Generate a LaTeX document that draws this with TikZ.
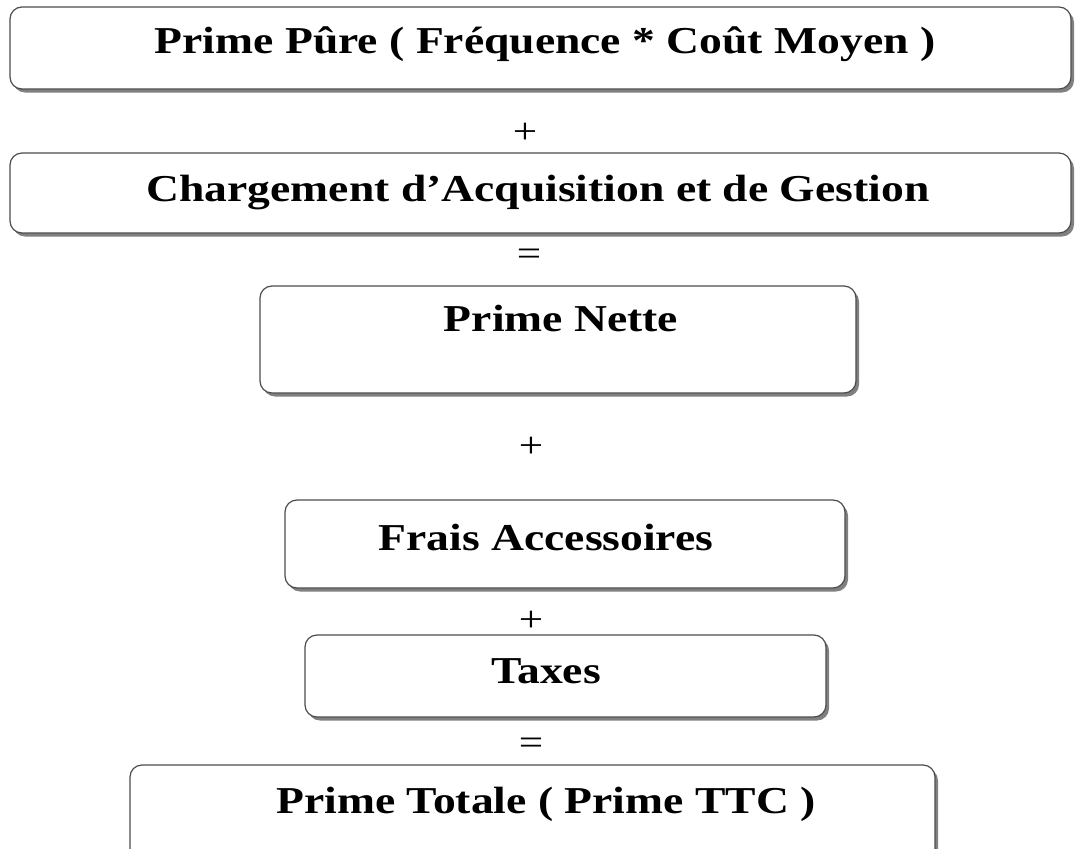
\documentclass[tikz,border=0pt]{standalone}
\usepackage{fontspec}
\setmainfont[FakeStretch=1.2]{Liberation Serif}
\usetikzlibrary{shadows}

\begin{document}
\begin{tikzpicture}[x=1bp, y=-1bp,
        box/.style={
        rectangle, rounded corners=12bp,
        draw=black!70, line width=1.2bp,
        inner sep=0pt, fill=white,
        drop shadow={shadow xshift=3bp, shadow yshift=-3.5bp,
                     fill=black!50, opacity=1}},
        txt/.style={anchor=base, inner sep=0pt,
        font=\fontsize{38bp}{42bp}\selectfont\bfseries},
        op/.style={inner sep=0pt,
        font=\fontsize{36bp}{40bp}\selectfont},
        ]

        \useasboundingbox (0,0) rectangle (1075,849);

        % the boxes
        \node (pure)  [box, minimum width=1061bp, minimum height=82bp] at (540.5,48){};
        \node (charg) [box, minimum width=1061bp, minimum height=80bp] at (540.5,193){};
        \node (nette) [box, minimum width=596bp, minimum height=107bp] at (558,339.5){};
        \node (frais) [box, minimum width=560bp, minimum height=88bp] at (565,544){};
        \node (taxes) [box, minimum width=521bp, minimum height=82bp] at (565.5,676){};
        \node (total) [box, minimum width=805bp, minimum height=105bp] at (532.5,817.5){};

        % the texts
        \node (t-pure)  [txt] at (545,53){Prime Pûre ( Fréquence * Coût Moyen )};
        \node (t-charg) [txt] at (538,201){Chargement d’Acquisition et de Gestion};
        \node (t-nette) [txt] at (561,331){Prime Nette};
        \node (t-frais) [txt] at (546,550){Frais Accessoires};
        \node (t-taxes) [txt] at (546,683){Taxes};
        \node (t-total) [txt] at (546,813){Prime Totale ( Prime TTC )};

        % the operators between them
        \node (plus1) [op] at (525,133){+};
        \node (eq1)   [op] at (529,257){=};
        \node (plus2) [op] at (531,447){+};
        \node (plus3) [op] at (531,621){+};
        \node (eq2)   [op] at (531,746){=};
    \end{tikzpicture}
\end{document}
